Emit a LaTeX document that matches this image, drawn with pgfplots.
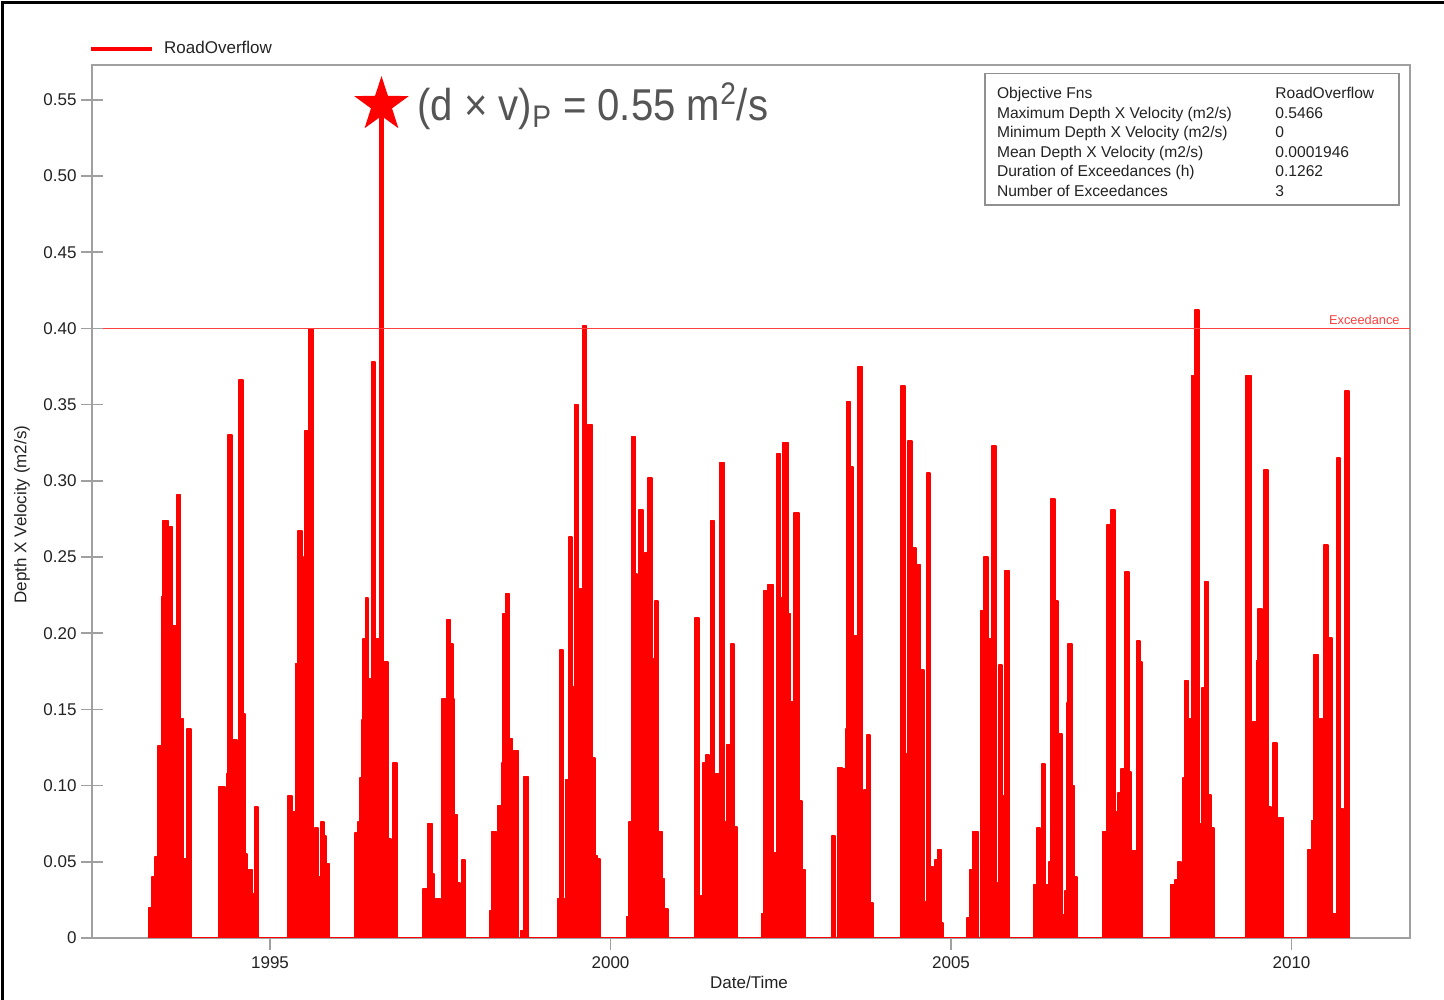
\documentclass[border=0pt]{standalone}
\usepackage{fontspec}
\setmainfont{Liberation Sans}
\usepackage{pgfplots}
\pgfplotsset{compat=1.18}
\usetikzlibrary{shapes.geometric}
\definecolor{axgray}{HTML}{A0A0A0}
\definecolor{boxgray}{HTML}{909090}
\definecolor{txt}{HTML}{222222}
\definecolor{annot}{HTML}{555555}
\definecolor{exc}{HTML}{FF4040}
\pgfdeclareplotmark{fstar}{\node[star, star points=5, star point ratio=2.6, fill=red, draw=none, inner sep=0pt, minimum size=28.8pt] {};}
\begin{document}
\begin{tikzpicture}
\path[use as bounding box] (0,0) rectangle (722pt,500pt);
\draw[black, line width=1.5pt] (1.25pt,0) -- (1.25pt,498.75pt) -- (722pt,498.75pt);
\begin{axis}[at={(46pt,31pt)}, anchor=south west, scale only axis,
  width=659pt, height=436.5pt,
  xmin=1992.386, xmax=2011.74, ymin=0, ymax=0.5728,
  axis line style={axgray, line width=0.8pt},
  xtick={1995,2000,2005,2010}, xticklabels={1995,2000,2005,2010},
  ytick={0,0.05,0.10,0.15,0.20,0.25,0.30,0.35,0.40,0.45,0.50,0.55},
  yticklabels={0,0.05,0.10,0.15,0.20,0.25,0.30,0.35,0.40,0.45,0.50,0.55},
  xtick pos=bottom, ytick pos=left,
  tick align=outside, major tick length=6pt,
  xtick style={axgray, line width=0.8pt}, ytick style={draw=none},
  tick label style={font=\fontsize{8.5}{10}\selectfont, text=txt},
  yticklabel style={xshift=1.8pt},
  xlabel={Date/Time}, ylabel={Depth X Velocity (m2/s)},
  label style={font=\fontsize{8.5}{10}\selectfont, text=txt},
  xlabel style={at={(axis description cs:0.4985,-0.0504)}, anchor=center},
  ylabel style={at={(axis description cs:-0.0531,0.485)}, anchor=center},
  legend style={at={(0,1)}, anchor=west, xshift=-1.5pt, yshift=8pt, draw=none, fill=none,
    inner sep=0pt, font=\fontsize{8.5}{10}\selectfont, text=txt},
  legend image code/.code={\draw[red, line width=2pt] (0pt,0pt) -- (30.5pt,0pt); \path (34pt,0pt);},
]
\addplot[red, fill=red, line width=0.8pt, line join=round, const plot] coordinates {
(1993.223,0.020) (1993.267,0.040) (1993.311,0.053) (1993.355,0.126) (1993.414,0.224) (1993.429,0.274) (1993.502,0.270) (1993.561,0.205) (1993.634,0.291) (1993.678,0.144) (1993.722,0.052) (1993.781,0.137) (1993.840,0)
(1994.251,0.099) (1994.339,0.060) (1994.369,0.108) (1994.383,0.330) (1994.442,0.130) (1994.515,0.106) (1994.545,0.366) (1994.604,0.147) (1994.633,0.055) (1994.662,0.027) (1994.677,0.045) (1994.736,0.029) (1994.780,0.086) (1994.824,0)
(1995.264,0.093) (1995.323,0.083) (1995.382,0.180) (1995.411,0.267) (1995.470,0.119) (1995.499,0.250) (1995.514,0.333) (1995.573,0.400) (1995.631,0.020) (1995.661,0.072) (1995.705,0.040) (1995.749,0.076) (1995.793,0.067) (1995.822,0.049) (1995.866,0)
(1996.248,0.069) (1996.292,0.076) (1996.322,0.105) (1996.351,0.143) (1996.366,0.196) (1996.410,0.223) (1996.439,0.170) (1996.498,0.378) (1996.542,0.196) (1996.615,0.5466) (1996.659,0.181) (1996.733,0.065) (1996.777,0.038) (1996.806,0.115) (1996.865,0)
(1997.247,0.032) (1997.320,0.075) (1997.379,0.042) (1997.408,0) (1997.438,0.026) (1997.496,0.011) (1997.526,0.157) (1997.599,0.209) (1997.643,0.193) (1997.687,0.157) (1997.702,0.081) (1997.746,0.036) (1997.790,0.034) (1997.819,0.051) (1997.863,0)
(1998.230,0.018) (1998.260,0.070) (1998.319,0.027) (1998.348,0.087) (1998.407,0.115) (1998.421,0.213) (1998.465,0.226) (1998.510,0.131) (1998.554,0.038) (1998.583,0.123) (1998.642,0) (1998.686,0.005) (1998.730,0.106) (1998.789,0)
(1999.229,0.026) (1999.258,0.189) (1999.302,0.026) (1999.347,0.104) (1999.391,0.263) (1999.435,0.165) (1999.479,0.350) (1999.523,0.058) (1999.552,0.229) (1999.596,0.402) (1999.640,0.136) (1999.670,0.337) (1999.728,0.118) (1999.772,0.054) (1999.802,0.052) (1999.846,0)
(2000.242,0.014) (2000.272,0.076) (2000.316,0.329) (2000.360,0.239) (2000.389,0.010) (2000.418,0.281) (2000.477,0.138) (2000.507,0.253) (2000.551,0.302) (2000.609,0.183) (2000.653,0.221) (2000.697,0.070) (2000.756,0.039) (2000.786,0.019) (2000.844,0)
(2001.241,0.210) (2001.299,0.028) (2001.358,0.115) (2001.402,0.120) (2001.446,0.070) (2001.476,0.274) (2001.520,0.020) (2001.534,0.108) (2001.593,0.010) (2001.608,0.312) (2001.667,0.076) (2001.711,0.127) (2001.769,0.193) (2001.813,0.073) (2001.857,0)
(2002.225,0.016) (2002.254,0.228) (2002.313,0.232) (2002.386,0.056) (2002.445,0.318) (2002.489,0.223) (2002.533,0.325) (2002.606,0.213) (2002.636,0.155) (2002.680,0.069) (2002.694,0.279) (2002.768,0.090) (2002.812,0.045) (2002.856,0)
(2003.252,0.067) (2003.296,0) (2003.341,0.112) (2003.399,0.066) (2003.414,0.111) (2003.458,0.137) (2003.473,0.352) (2003.517,0.309) (2003.561,0.112) (2003.575,0.198) (2003.634,0.375) (2003.693,0.056) (2003.722,0.097) (2003.766,0.133) (2003.810,0.023) (2003.854,0)
(2004.266,0.362) (2004.324,0.121) (2004.368,0.326) (2004.427,0.256) (2004.486,0.245) (2004.545,0.176) (2004.603,0.024) (2004.647,0.305) (2004.691,0.047) (2004.735,0) (2004.765,0.051) (2004.809,0.058) (2004.853,0.010) (2004.882,0)
(2005.235,0.013) (2005.279,0.045) (2005.323,0.070) (2005.396,0) (2005.440,0.215) (2005.484,0.250) (2005.543,0.196) (2005.587,0.055) (2005.602,0.323) (2005.661,0.036) (2005.705,0.179) (2005.749,0.093) (2005.793,0.241) (2005.852,0)
(2006.219,0.035) (2006.263,0.072) (2006.307,0.063) (2006.336,0.114) (2006.380,0.035) (2006.424,0.010) (2006.439,0.050) (2006.468,0.288) (2006.527,0.221) (2006.571,0.134) (2006.630,0.015) (2006.674,0.031) (2006.703,0.154) (2006.718,0.193) (2006.777,0.100) (2006.806,0.040) (2006.850,0)
(2007.232,0.070) (2007.291,0.271) (2007.349,0.281) (2007.408,0.083) (2007.452,0.095) (2007.496,0.111) (2007.555,0.240) (2007.614,0.109) (2007.643,0.026) (2007.658,0.057) (2007.731,0.195) (2007.775,0.181) (2007.804,0)
(2008.230,0.035) (2008.289,0.038) (2008.333,0.050) (2008.377,0.043) (2008.407,0.105) (2008.436,0.169) (2008.480,0.144) (2008.539,0.369) (2008.583,0.412) (2008.641,0.075) (2008.686,0.164) (2008.730,0.234) (2008.774,0.094) (2008.818,0.072) (2008.862,0)
(2009.332,0.369) (2009.405,0.141) (2009.434,0.142) (2009.493,0.182) (2009.508,0.216) (2009.567,0.213) (2009.596,0.307) (2009.655,0.086) (2009.699,0.010) (2009.728,0.128) (2009.787,0.077) (2009.816,0.079) (2009.875,0)
(2010.242,0.058) (2010.301,0.077) (2010.330,0.186) (2010.389,0.110) (2010.418,0.144) (2010.477,0.258) (2010.536,0.197) (2010.594,0.016) (2010.668,0.315) (2010.712,0.085) (2010.756,0.062) (2010.785,0.359) (2010.844,0)
} \closedcycle;
\addlegendentry{RoadOverflow}
\addplot[exc, line width=0.75pt, forget plot] coordinates {(1992.386,0.4) (2011.74,0.4)};
\addplot[only marks, mark=fstar, forget plot] coordinates {(1996.637,0.5466)};
\node[anchor=south east, text=exc, font=\fontsize{6.4}{7}\selectfont, inner sep=0pt] at (axis cs:2011.593,0.402) {Exceedance};
\node[anchor=base west, text=annot, inner sep=0pt, xshift=17.75pt] at (axis cs:1996.637,0.5367) {\scalebox{0.9}[1]{\fontsize{22.3}{26}\selectfont (d × v)\textsubscript{P} = 0.55 m\textsuperscript{2}/s}};
\end{axis}
\begin{axis}[at={(46pt,31pt)}, anchor=south west, scale only axis,
  width=659pt, height=436.5pt,
  xmin=1992.386, xmax=2011.74, ymin=0, ymax=0.5728,
  axis line style={draw=none}, xtick=\empty,
  ytick={0,0.05,0.10,0.15,0.20,0.25,0.30,0.35,0.40,0.45,0.50,0.55},
  yticklabels={}, ytick pos=left,
  tick align=center, major tick length=11pt,
  ytick style={axgray, line width=0.8pt}]
\end{axis}
\draw[boxgray, line width=0.8pt] (492.5pt,397.5pt) rectangle (699.5pt,463.3pt);
\begin{scope}[every node/.style={inner sep=0pt, anchor=base west, text=txt, font=\fontsize{7.8}{9}\selectfont}]
\node at (498.3pt,450.7pt) {Objective Fns};
\node at (498.3pt,440.95pt) {Maximum Depth X Velocity (m2/s)};
\node at (498.3pt,431.2pt) {Minimum Depth X Velocity (m2/s)};
\node at (498.3pt,421.45pt) {Mean Depth X Velocity (m2/s)};
\node at (498.3pt,411.7pt) {Duration of Exceedances (h)};
\node at (498.3pt,401.95pt) {Number of Exceedances};
\node at (637.5pt,450.7pt) {RoadOverflow};
\node at (637.5pt,440.95pt) {0.5466};
\node at (637.5pt,431.2pt) {0};
\node at (637.5pt,421.45pt) {0.0001946};
\node at (637.5pt,411.7pt) {0.1262};
\node at (637.5pt,401.95pt) {3};
\end{scope}
\end{tikzpicture}
\end{document}
